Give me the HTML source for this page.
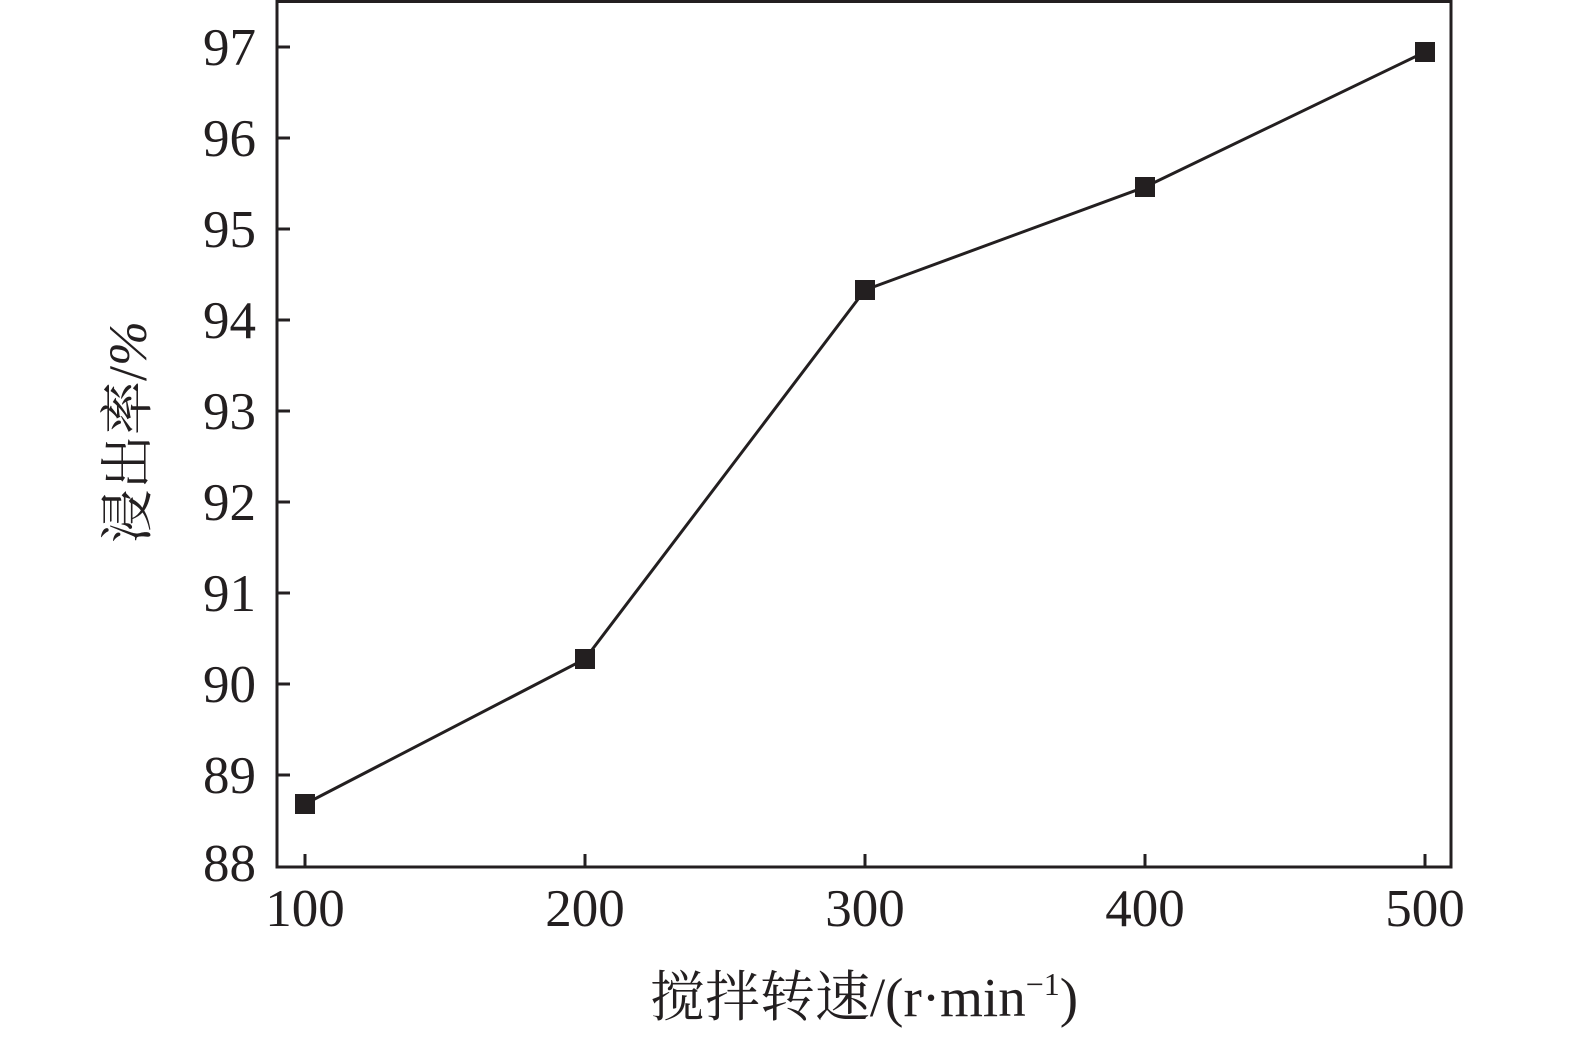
<!DOCTYPE html>
<html><head><meta charset="utf-8"><style>
html,body{margin:0;padding:0;background:#fff;}
svg{display:block;}
text{font-family:"Liberation Serif","Noto Serif CJK SC",serif;fill:#231f20;}
</style></head><body>
<svg width="1575" height="1037" viewBox="0 0 1575 1037">
<g stroke="#231f20" stroke-width="3" fill="none">
<rect x="277" y="1.5" width="1174" height="865.5"/>
<path d="M277 47h13M277 138h13M277 229h13M277 320h13M277 411h13M277 502h13M277 593h13M277 684h13M277 775h13"/>
<path d="M305 867v-13M585 867v-13M865 867v-13M1145 867v-13M1425 867v-13"/>
</g>
<polyline points="305,804 585,659 865,290 1145,187 1425,52" fill="none" stroke="#231f20" stroke-width="3"/>
<g fill="#231f20">
<rect x="295" y="794" width="20" height="20"/>
<rect x="575" y="649" width="20" height="20"/>
<rect x="855" y="280" width="20" height="20"/>
<rect x="1135" y="177" width="20" height="20"/>
<rect x="1415" y="42" width="20" height="20"/>
</g>
<g font-size="53" text-anchor="end">
<text x="256" y="65">97</text><text x="256" y="156">96</text><text x="256" y="247">95</text>
<text x="256" y="338">94</text><text x="256" y="429">93</text><text x="256" y="520">92</text>
<text x="256" y="611">91</text><text x="256" y="702">90</text><text x="256" y="793">89</text>
<text x="256" y="881">88</text>
</g>
<g font-size="53" text-anchor="middle">
<text x="305" y="926">100</text><text x="585" y="926">200</text><text x="865" y="926">300</text>
<text x="1145" y="926">400</text><text x="1425" y="926">500</text>
</g>
<text x="864" y="1016" font-size="55" text-anchor="middle">搅拌转速/(r·min<tspan font-size="32" dy="-21">−1</tspan><tspan dy="21">)</tspan></text>
<text transform="translate(146,432) rotate(-90)" font-size="54" text-anchor="middle">浸出率/<tspan font-style="italic">%</tspan></text>
</svg>
</body></html>
